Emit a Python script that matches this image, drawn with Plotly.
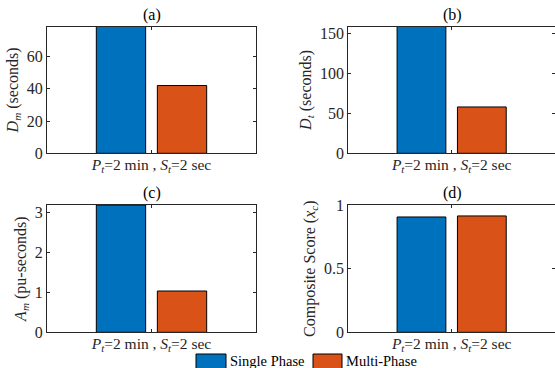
import plotly.graph_objects as go

# ---- data ----
category = ["<i>P</i><sub><i>t</i></sub>=2 min , <i>S</i><sub><i>t</i></sub>=2 sec"]
series_names = ["Single Phase", "Multi-Phase"]
single_phase = [78.6, 158.7, 3.19, 0.906]   # D_m, D_t, A_m, x_c
multi_phase = [42.0, 58.0, 1.035, 0.914]
panel_titles = ["(a)", "(b)", "(c)", "(d)"]
y_titles = ["<i>D</i><sub><i>m</i></sub> (seconds)",
            "<i>D</i><sub><i>t</i></sub> (seconds)",
            "<i>A</i><sub><i>m</i></sub> (pu-seconds)",
            "Composite Score (<i>x</i><sub><i>c</i></sub>)"]
y_max = [78.6, 158.7, 3.19, 1.0]
y_ticks = [[0, 20, 40, 60], [0, 50, 100, 150], [0, 1, 2, 3], [0, 0.5, 1]]
y_ticktext = [["0", "20", "40", "60"], ["0", "50", "100", "150"],
              ["0", "1", "2", "3"], ["0", "0.5", "1"]]

colors = ["#0072BD", "#D95319"]
FONT = "Liberation Serif"
FS = 16
W, H = 555, 368

fig = go.Figure()

# panel pixel boxes: (left, right, top, bottom)
boxes = [(47, 256, 26.5, 153.3), (348.3, 555, 26.5, 153.3),
         (47, 256, 205, 332.3), (348.3, 555, 205, 332.3)]

offsets = [-0.264, 0.028]
bw = 0.236
for i in range(4):
    l, r, t, b = boxes[i]
    xa = "x" if i == 0 else f"x{i+1}"
    ya = "y" if i == 0 else f"y{i+1}"
    vals = [single_phase[i], multi_phase[i]]
    for s in range(2):
        fig.add_trace(go.Bar(
            x=[1], y=[vals[s]], width=[bw], offset=[offsets[s]],
            marker=dict(color=colors[s], line=dict(color="black", width=1)),
            name=series_names[s], showlegend=False, xaxis=xa, yaxis=ya,
            hoverinfo="skip"))
    axis_common = dict(showline=True, linecolor="#262626", linewidth=1,
                       mirror="ticks", ticks="inside", ticklen=3,
                       tickcolor="#262626", showgrid=False, zeroline=False,
                       automargin=False)
    xkey = "xaxis" if i == 0 else f"xaxis{i+1}"
    ykey = "yaxis" if i == 0 else f"yaxis{i+1}"
    fig.layout[xkey] = dict(domain=[l / W, r / W], range=[0.5, 1.5],
                            tickvals=[1], ticktext=category, anchor=ya,
                            ticklabelstandoff=-3,
                            tickfont=dict(family=FONT, size=15.5, color="#262626"),
                            **axis_common)
    fig.layout[ykey] = dict(domain=[1 - b / H, 1 - t / H], range=[0, y_max[i]],
                            tickvals=y_ticks[i], ticktext=y_ticktext[i],
                            anchor=xa,
                            tickfont=dict(family=FONT, size=FS, color="#262626"),
                            title=dict(text=y_titles[i], standoff=4,
                                       font=dict(family=FONT, size=FS, color="#262626")),
                            **axis_common)
    fig.add_annotation(text=panel_titles[i], x=(l + 104.5) / W, y=1 - (t - 1) / H,
                       xref="paper", yref="paper", xanchor="center", yanchor="bottom",
                       showarrow=False, font=dict(family=FONT, size=FS, color="black"))

# legend (drawn as swatches + text)
leg = [(196, 226, 228), (313, 342, 344)]
shapes = []
for s in range(2):
    x0, x1, tx = leg[s]
    shapes.append(dict(type="rect", xref="paper", yref="paper",
                       x0=x0 / W, x1=x1 / W, y0=1 - 369 / H, y1=1 - 354 / H,
                       fillcolor=colors[s], line=dict(color="black", width=1)))
    fig.add_annotation(text=series_names[s], x=tx / W, y=1 - 361 / H,
                       xref="paper", yref="paper", xanchor="left", yanchor="middle",
                       showarrow=False, font=dict(family=FONT, size=14.5, color="black"))

fig.update_layout(width=W, height=H, margin=dict(l=0, r=0, t=0, b=0),
                  plot_bgcolor="white", paper_bgcolor="white",
                  shapes=shapes, showlegend=False, barmode="overlay")

fig.write_html("out.html", config={"displayModeBar": False},
               post_script="document.body.style.margin='0';document.body.style.overflow='hidden';")
